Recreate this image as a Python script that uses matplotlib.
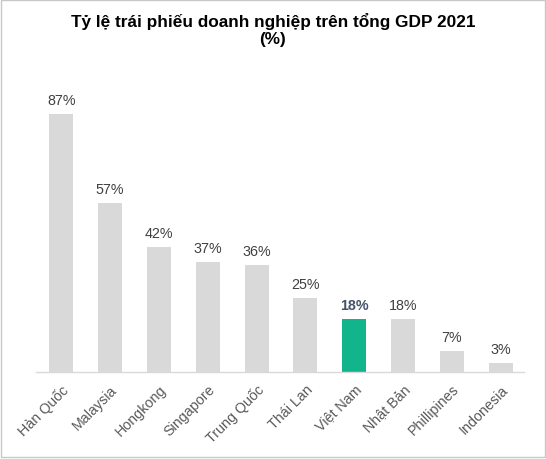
import matplotlib.pyplot as plt
from matplotlib.patches import Rectangle

plt.rcParams['font.family'] = ['Liberation Sans', 'DejaVu Sans']

# dữ liệu
countries = ['Hàn Quốc', 'Malaysia', 'Hongkong', 'Singapore', 'Trung Quốc',
             'Thái Lan', 'Việt Nam', 'Nhật Bản', 'Phillipines', 'Indonesia']
values = [87, 57, 42, 37, 36, 25, 18, 18, 7, 3]
highlight = 'Việt Nam'

grey = '#D9D9D9'
teal = '#12B48C'

fig = plt.figure(figsize=(5.46, 4.60), dpi=100)
ax = fig.add_axes([36 / 546, 87 / 460, 488 / 546, 297 / 460])

colors = [teal if c == highlight else grey for c in countries]
bars = ax.bar(range(len(countries)), values, width=0.49, color=colors)

for i, (b, v) in enumerate(zip(bars, values)):
    is_hl = countries[i] == highlight
    ax.annotate(f'{v}%', (b.get_x() + b.get_width() / 2, v),
                xytext=(0, 5), textcoords='offset points',
                ha='center', va='bottom', fontsize=10.3,
                color='#44546A' if is_hl else '#404040',
                fontweight='bold' if is_hl else 'normal')

ax.set_xlim(-0.52, 9.48)
ax.set_ylim(0, 100)
ax.set_yticks([])
ax.set_xticks(range(len(countries)))
ax.set_xticklabels(countries, rotation=45, ha='right', rotation_mode='anchor',
                   fontsize=10.3, color='#595959')
ax.tick_params(axis='x', length=0, pad=7)
for s in ['top', 'right', 'left']:
    ax.spines[s].set_visible(False)
ax.spines['bottom'].set_color('#D9D9D9')
ax.spines['bottom'].set_linewidth(1)

fig.text(0.5, 0.972, 'Tỷ lệ trái phiếu doanh nghiệp trên tổng GDP 2021\n(%)',
         ha='center', va='top', fontsize=12.4, fontweight='bold',
         linespacing=1.2, color='black')

# khung viền biểu đồ
fig.patches.append(Rectangle((0.5 / 546, 2 / 460), 544 / 546, 457 / 460,
                             transform=fig.transFigure, fill=False,
                             edgecolor='#C8C8C8', linewidth=1))

fig.savefig('out.png', dpi=100)
